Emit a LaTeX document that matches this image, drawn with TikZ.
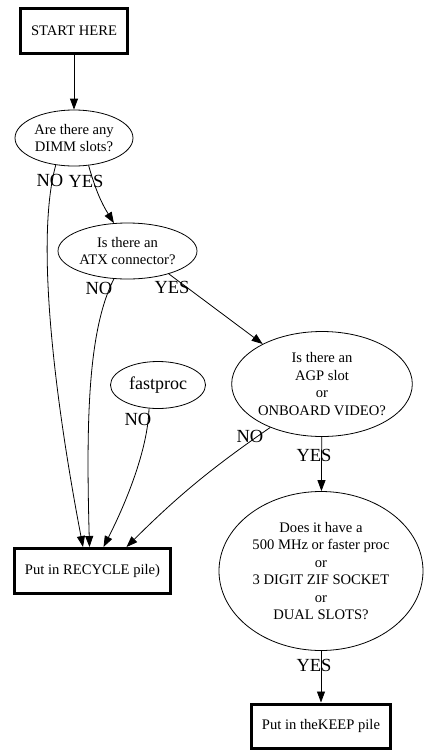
\documentclass[tikz,border=0pt]{standalone}
\usepackage{fontspec}
\setmainfont{Liberation Serif}
\usetikzlibrary{arrows.meta, shapes.geometric}

\begin{document}
\begin{tikzpicture}[
  x=1pt, y=-1pt,
  pile/.style={
    rectangle,
    draw=black,
    line width=3pt,
    align=center,
    inner sep=0pt,
    font=\fontsize{14.6}{17.5}\selectfont
  },
  question/.style={
    ellipse,
    draw=black,
    line width=0.8pt,
    align=center,
    inner sep=0pt,
    font=\fontsize{14.6}{17.5}\selectfont
  },
  answer/.style={inner sep=0pt, font=\fontsize{18.5}{20}\selectfont},
  arrow/.style={-{Triangle[length=11pt,width=8pt]}, line width=0.8pt, draw=black}
]
\useasboundingbox (0,0) rectangle (432,756);

\node[pile, minimum width=107pt, minimum height=45pt] (start) at (74,31) {START HERE};
\node[question, minimum width=118pt, minimum height=56pt] (dimm) at (74,138) {Are there any\\DIMM slots?};
\node[question, minimum width=139pt, minimum height=56pt] (atx) at (127.5,251) {Is there an\\ATX connector?};
\node[question, minimum width=180pt, minimum height=105pt] (agp) at (322,384) {Is there an\\AGP slot\\or\\ONBOARD VIDEO?};
\node[question, font=\fontsize{18}{20}\selectfont, minimum width=95pt, minimum height=47pt] (fastproc) at (158,385) {fastproc};
\node[question, minimum width=204pt, minimum height=159pt] (proc) at (321,571) {Does it have a\\500 MHz or faster proc\\or\\3 DIGIT ZIF SOCKET\\or\\DUAL SLOTS?};
\node[pile, minimum width=156pt, minimum height=45pt] (recycle) at (92.5,571) {Put in RECYCLE pile)};
\node[pile, minimum width=139pt, minimum height=44pt] (keep) at (321,726) {Put in theKEEP pile};

\draw[arrow] (start) -- (dimm);
\draw[arrow] (dimm.-62) to[bend right=8] (atx.116);
\draw[arrow] (dimm.236) .. controls (35,240) and (55,400) .. ([xshift=-9.5pt]recycle.north);
\draw[arrow] (atx.244) .. controls (88,330) and (86,420) .. ([xshift=-3pt]recycle.north);
\draw[arrow] (atx.-29) -- (agp.146);
\draw[arrow] (fastproc.249) .. controls (148,450) and (125,505) .. ([xshift=11pt]recycle.north);
\draw[arrow] (agp.220) to[bend right=5] ([xshift=34pt]recycle.north);
\draw[arrow] (agp) -- (proc);
\draw[arrow] (proc) -- (keep);

\node[answer] (noDimm) at (50,180) {NO};
\node[answer] (yesDimm) at (86,181) {YES};
\node[answer] (noAtx) at (99,288) {NO};
\node[answer] (yesAtx) at (172,287) {YES};
\node[answer] (noFast) at (138,419) {NO};
\node[answer] (noAgp) at (250,436) {NO};
\node[answer] (yesAgp) at (314,455) {YES};
\node[answer] (yesProc) at (314,665) {YES};

\end{tikzpicture}
\end{document}
